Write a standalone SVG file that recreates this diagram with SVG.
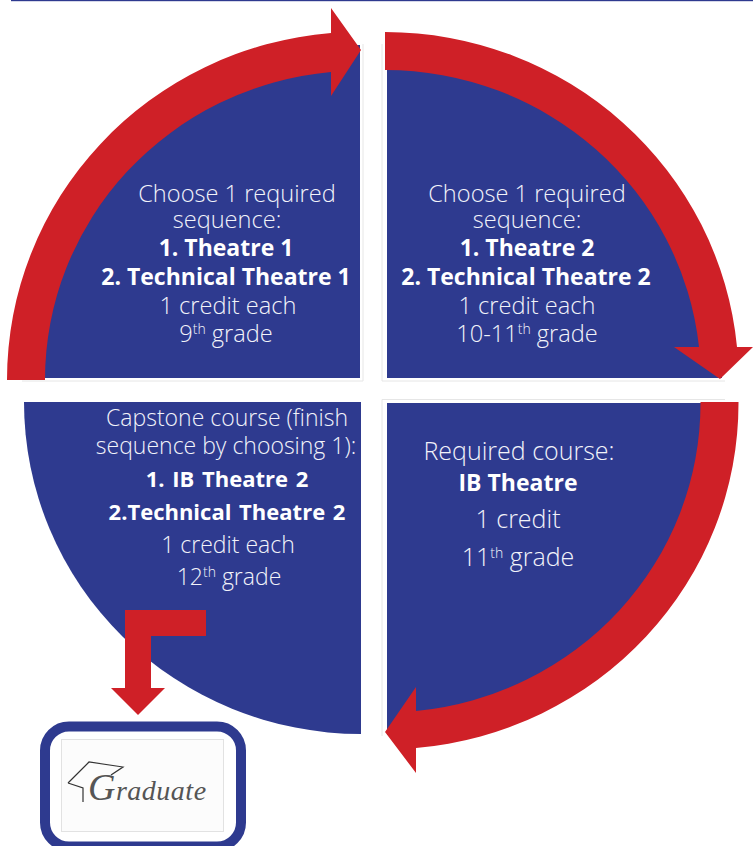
<svg xmlns="http://www.w3.org/2000/svg" width="753" height="846" viewBox="0 0 753 846">
<style>
.q{fill:#2e3a8f}
.a{fill:#cf2027}
.t{font-family:"Open Sans","Noto Sans",sans-serif;fill:#f2f3fa;font-size:23.600px;text-anchor:middle;font-weight:300}
.b{font-weight:700;fill:#fff;font-size:23px}
.c{font-size:22px;word-spacing:2px}
.m{font-size:23px}
.r{font-size:25px}
.s{stroke:#e6e6e6;stroke-width:1;fill:none}
.sup{font-size:14px}
</style>
<rect width="753" height="846" fill="#fff"/>
<rect x="11" y="0" width="742" height="1.2" fill="#2e3a8f"/>
<g id="q1"><path class="s" d="M22 381H363V44"/><path class="q" d="M360 378V45A340 335 0 0 0 21 378Z"/>
<text class="t" x="237" y="202">Choose 1 required</text><text class="t" x="227" y="228">sequence:</text>
<text class="t b" x="226" y="256">1. Theatre 1</text><text class="t b" x="226" y="285">2. Technical Theatre 1</text>
<text class="t" x="228" y="314">1 credit each</text><text class="t" x="226" y="342">9<tspan class="sup" dy="-8">th</tspan><tspan dy="8"> grade</tspan></text></g>
<g id="q2"><path class="s" d="M382 44V381H725"/><path class="q" d="M387 378V45A335 335 0 0 1 722 378Z"/>
<text class="t" x="527" y="202">Choose 1 required</text><text class="t" x="527" y="228">sequence:</text>
<text class="t b" x="527" y="256">1. Theatre 2</text><text class="t b" x="526" y="285">2. Technical Theatre 2</text>
<text class="t" x="527" y="314">1 credit each</text><text class="t" x="527" y="342">10-11<tspan class="sup" dy="-8">th</tspan><tspan dy="8"> grade</tspan></text></g>
<g id="q3"><path class="s" d="M382 736V399.500H725"/><path class="q" d="M387 403H722A335 332 0 0 1 387 735Z"/>
<text class="t r" x="519" y="460">Required course:</text><text class="t b" x="518" y="491">IB Theatre</text>
<text class="t r" x="518" y="528">1 credit</text><text class="t r" x="518" y="566">11<tspan class="sup" dy="-8">th</tspan><tspan dy="8"> grade</tspan></text></g>
<g id="q4"><path class="q" d="M361 402H24A337 332 0 0 0 361 734Z"/>
<text class="t m" x="227" y="426">Capstone course (finish</text><text class="t m" x="226" y="454">sequence by choosing 1):</text>
<text class="t b c" x="227" y="487">1. IB Theatre 2</text><text class="t b c" x="227" y="520">2.Technical Theatre 2</text>
<text class="t m" x="228" y="553">1 credit each</text><text class="t m" x="229" y="585">12<tspan class="sup" dy="-8">th</tspan><tspan dy="8"> grade</tspan></text></g>
<g id="graduate"><rect x="45" y="726.500" width="196" height="120" rx="24" fill="#fff" stroke="#2e3a8f" stroke-width="10"/>
<rect x="61.500" y="739.500" width="162" height="92" fill="#fcfcfc" stroke="#e2e2e2"/>
<path d="M68 783L89 762L123 767L111 775M68 783L83 788V802" fill="none" stroke="#333" stroke-width="1.200"/>
<text id="graduate-label" x="88" y="800" font-family="Liberation Serif,serif" font-style="italic" font-size="28" letter-spacing="0.500" fill="#555"><tspan font-size="38">G</tspan>raduate</text></g>
<g id="connectors">
<path class="a" d="M7 380A353 348 0 0 1 331 33V8L361 50L331 96V72A315 309 0 0 0 45 380Z"/>
<path class="a" d="M385 32A354 348 0 0 1 737 347H753L720 379L674 347H699A316 310 0 0 0 385 70Z"/>
<path class="a" d="M738.500 402A353.500 346 0 0 1 416 748V773L385 732L416 687V711A315.500 309 0 0 0 700.500 402Z"/>
<path class="a" d="M206 610V636H151V688H165L138 715L111 688H125V610Z"/>
</g>
</svg>
